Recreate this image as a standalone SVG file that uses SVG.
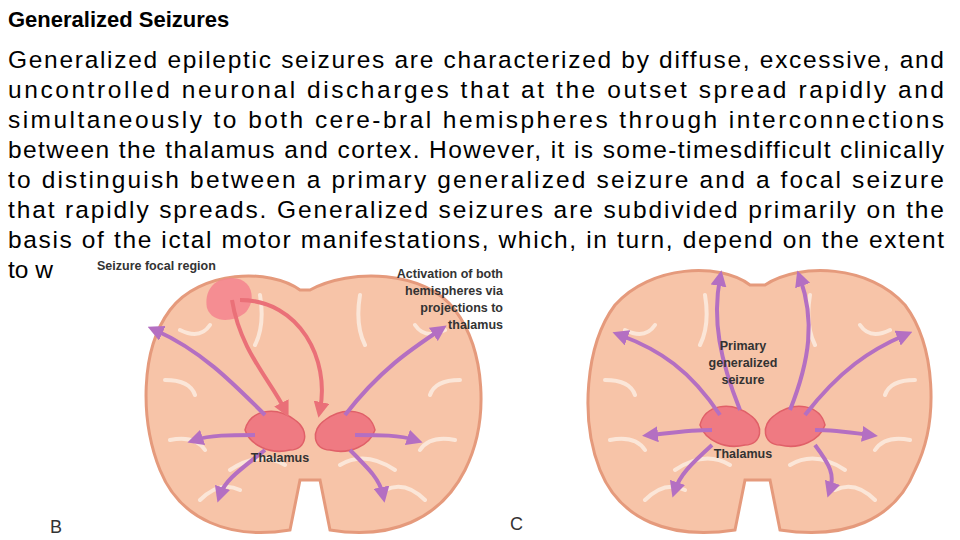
<svg xmlns="http://www.w3.org/2000/svg" width="960" height="540" viewBox="0 0 960 540">
<defs>
<style>
.t{font-family:"Liberation Sans",Arial,sans-serif;font-size:24.5px;fill:#000}
.l{font-family:"Liberation Sans",Arial,sans-serif;font-size:12.5px;font-weight:bold;fill:#333}
.brain{fill:#f7c4a8;stroke:#e59a7c;stroke-width:3}
.g{fill:none;stroke:#fbe6d8;stroke-width:4;stroke-linecap:round}
.th{fill:#ef7a82;stroke:#e06068;stroke-width:1.5}
.pa{fill:none;stroke:#b46fc2;stroke-width:4;marker-end:url(#ap)}
.ra{fill:none;stroke:#ea7078;stroke-width:4;marker-end:url(#ar)}
</style>
<marker id="ap" viewBox="0 0 10 10" refX="5" refY="5" markerWidth="4" markerHeight="4" orient="auto"><path d="M0,0L10,5L0,10z" fill="#b46fc2"/></marker>
<marker id="ar" viewBox="0 0 10 10" refX="5" refY="5" markerWidth="4" markerHeight="4" orient="auto"><path d="M0,0L10,5L0,10z" fill="#ea7078"/></marker>
</defs>
<rect width="960" height="540" fill="#fff"/>
<text x="8" y="27" class="t" style="font-weight:bold;font-size:22px">Generalized Seizures</text>
<text x="8" y="68" class="t" textLength="936" lengthAdjust="spacing">Generalized epileptic seizures are characterized by diffuse, excessive, and</text>
<text x="8" y="98" class="t" textLength="936" lengthAdjust="spacing">uncontrolled neuronal discharges that at the outset spread rapidly and</text>
<text x="8" y="128" class="t" textLength="936" lengthAdjust="spacing">simultaneously to both cere-bral hemispheres through interconnections</text>
<text x="8" y="158" class="t" textLength="936" lengthAdjust="spacing">between the thalamus and cortex. However, it is some-timesdifficult clinically</text>
<text x="8" y="188" class="t" textLength="936" lengthAdjust="spacing">to distinguish between a primary generalized seizure and a focal seizure</text>
<text x="8" y="218" class="t" textLength="936" lengthAdjust="spacing">that rapidly spreads. Generalized seizures are subdivided primarily on the</text>
<text x="8" y="248" class="t" textLength="936" lengthAdjust="spacing">basis of the ictal motor manifestations, which, in turn, depend on the extent</text>
<text x="8" y="278" class="t">to w</text>
<rect x="95" y="256" width="865" height="284" fill="#fff"/>
<g id="brainB">
<path class="brain" d="M300,290 C270,268 200,270 170,310 C140,350 140,420 160,470 C180,520 230,540 290,530 L300,480 L320,480 L330,530 C390,540 440,520 465,470 C490,420 485,350 455,310 C425,270 350,268 310,290 Z"/>
<path class="g" d="M180,330 q20,10 30,-5 M165,380 q25,0 30,15 M170,440 q25,-5 35,10 M200,500 q20,-20 40,-10 M445,330 q-20,10 -30,-5 M460,380 q-25,0 -30,15 M455,440 q-25,-5 -35,10 M425,500 q-20,-20 -40,-10 M260,295 q5,30 -5,50 M360,295 q-5,30 5,50 M230,470 q30,-20 55,-5 M395,470 q-30,-20 -55,-5"/>
<path d="M232,278 c-20,0 -28,15 -25,30 c5,15 25,15 38,5 c12,-12 8,-35 -13,-35z" fill="#f4848e" opacity="0.85"/>
<path class="th" d="M245,430 c5,-20 30,-25 50,-10 c15,10 12,30 -5,30 c-20,5 -40,-5 -45,-20z"/>
<path class="th" d="M375,430 c-5,-20 -30,-25 -50,-10 c-15,10 -12,30 5,30 c20,5 40,-5 45,-20z"/>
</g>
<g id="brainC">
<path class="brain" d="M750,285 C720,262 650,265 615,305 C585,345 580,420 600,470 C620,520 670,540 735,530 L745,480 L770,480 L780,530 C845,540 895,520 915,470 C940,420 935,345 905,305 C870,265 800,262 765,285 Z"/>
<path class="g" d="M625,330 q20,10 30,-5 M605,380 q25,0 30,15 M610,440 q25,-5 35,10 M645,500 q20,-20 40,-10 M890,330 q-20,10 -30,-5 M915,380 q-25,0 -30,15 M910,440 q-25,-5 -35,10 M875,500 q-20,-20 -40,-10 M705,295 q5,30 -5,50 M810,295 q-5,30 5,50 M675,470 q30,-20 55,-5 M845,470 q-30,-20 -55,-5"/>
<path class="th" d="M700,425 c5,-20 30,-25 50,-10 c15,10 12,30 -5,30 c-20,5 -40,-5 -45,-20z"/>
<path class="th" d="M825,425 c-5,-20 -30,-25 -50,-10 c-15,10 -12,30 5,30 c20,5 40,-5 45,-20z"/>
</g>
<g id="connectors">
<path class="ra" d="M232,300 C240,350 270,380 285,410"/>
<path class="ra" d="M240,300 C300,300 330,360 320,410"/>
<path class="pa" d="M265,415 C230,380 200,350 155,330"/>
<path class="pa" d="M345,415 C380,370 410,350 440,330"/>
<path class="pa" d="M255,435 C230,435 210,435 195,440"/>
<path class="pa" d="M265,450 C240,470 225,480 220,495"/>
<path class="pa" d="M355,435 C380,435 400,435 415,440"/>
<path class="pa" d="M350,450 C370,470 380,480 383,495"/>
<path class="pa" d="M740,410 C720,360 712,320 720,278"/>
<path class="pa" d="M790,410 C810,360 815,320 800,278"/>
<path class="pa" d="M720,415 C690,370 660,350 620,335"/>
<path class="pa" d="M805,415 C840,370 870,350 905,335"/>
<path class="pa" d="M712,430 C690,430 670,433 650,435"/>
<path class="pa" d="M712,445 C690,465 680,475 675,490"/>
<path class="pa" d="M815,430 C835,430 855,433 870,435"/>
<path class="pa" d="M815,445 C830,465 835,475 830,490"/>
</g>
<g id="labels">
<text x="97" y="270" class="l">Seizure focal region</text>
<text x="503" y="278" class="l" text-anchor="end">Activation of both</text>
<text x="503" y="295" class="l" text-anchor="end">hemispheres via</text>
<text x="503" y="312" class="l" text-anchor="end">projections to</text>
<text x="503" y="329" class="l" text-anchor="end">thalamus</text>
<text x="280" y="462" class="l" text-anchor="middle">Thalamus</text>
<text x="743" y="350" class="l" text-anchor="middle">Primary</text>
<text x="743" y="367" class="l" text-anchor="middle">generalized</text>
<text x="743" y="384" class="l" text-anchor="middle">seizure</text>
<text x="743" y="458" class="l" text-anchor="middle">Thalamus</text>
<text x="50" y="533" class="l" style="font-weight:normal;font-size:18px">B</text>
<text x="510" y="530" class="l" style="font-weight:normal;font-size:18px">C</text>
</g>
</svg>
